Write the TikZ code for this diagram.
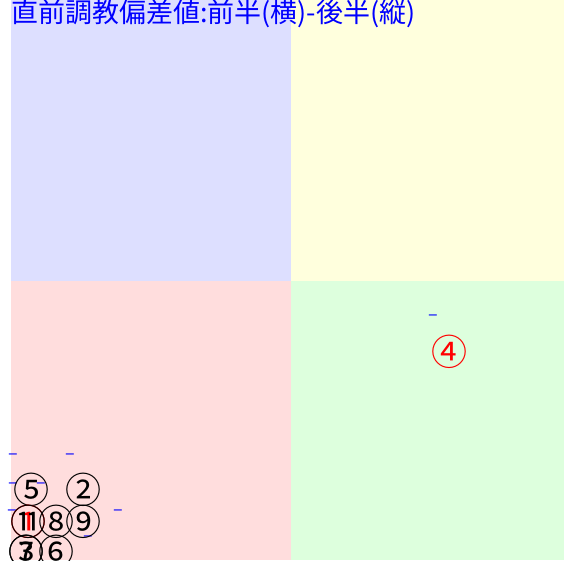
\documentclass[tikz,border=0pt]{standalone}
\usepackage{fontspec}
\setmainfont{Noto Sans CJK JP}
\begin{document}
\begin{tikzpicture}[x=1pt,y=-1pt]
\definecolor{qblue}{RGB}{221,223,255}
\definecolor{qyellow}{RGB}{255,255,221}
\definecolor{qpink}{RGB}{255,221,221}
\definecolor{qgreen}{RGB}{221,255,221}
\definecolor{tblue}{RGB}{0,0,255}
\tikzset{
  mk/.style={inner sep=0pt, font=\fontsize{36}{36}\selectfont, text=black},
  mkred/.style={mk, text=red},
  tick/.style={inner sep=0pt, font=\fontsize{18}{18}\selectfont, text=tblue},
}
\useasboundingbox (0,0) rectangle (564,560);
\fill[white] (0,0) rectangle (564,560);
\fill[qblue] (11,0) rectangle (291,281);
\fill[qyellow] (291,0) rectangle (564,281);
\fill[qpink] (11,281) rectangle (291,560);
\fill[qgreen] (291,281) rectangle (564,560);
\node[anchor=north west, inner sep=0pt, font=\fontsize{27}{27}\selectfont, text=tblue] (title) at (11,-1) {直前調教偏差値:前半(横)-後半(縦)};
% tick marks
\node[tick] (t1) at (13,457) {–};
\node[tick] (t2) at (70,457) {–};
\node[tick] (t3) at (13,486) {–};
\node[tick] (t4) at (41,486) {–};
\node[tick] (t5) at (12,513) {–};
\node[tick] (t6) at (118,513) {–};
\node[tick] (t7) at (88,539) {–};
\node[tick] (t8) at (433,318) {–};
% markers
\node[mkred] (m4) at (449,352) {④};
\node[mk] (m5) at (31,490) {⑤};
\node[mk] (m2) at (83,490) {②};
\node[mkred] (m1) at (28,522) {①};
\node[mk] (m11) at (28,522) {⑪};
\node[mk] (m8) at (56,522) {⑧};
\node[mk] (m9) at (83,522) {⑨};
\node[mk] (m3) at (27,552) {③};
\node[mk] (m7) at (27,552) {⑦};
\node[mk] (m6) at (56,552) {⑥};
\end{tikzpicture}
\end{document}
